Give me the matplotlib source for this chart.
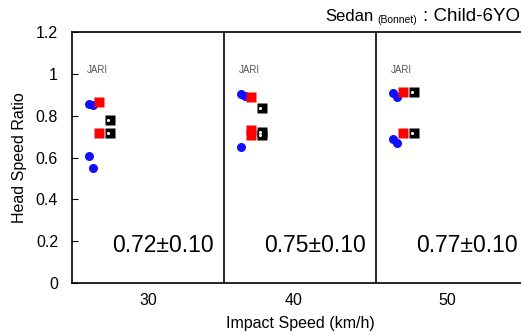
import matplotlib.pyplot as plt

plt.rcParams["font.family"] = ["Liberation Sans", "DejaVu Sans"]

# impact speeds (km/h), one panel each
speeds = ["30", "40", "50"]

# head speed ratios
blue_ratio = [[0.855, 0.85, 0.605, 0.55], [0.905, 0.893, 0.648], [0.907, 0.89, 0.69, 0.667]]
red_ratio = [[0.865, 0.715], [0.888, 0.73, 0.706], [0.912, 0.715]]
black_ratio = [[0.78, 0.715], [0.835, 0.72, 0.706], [0.912, 0.715]]
mean_ratio = [0.72, 0.75, 0.77]
sd_ratio = [0.10, 0.10, 0.10]

fig = plt.figure(figsize=(5.21, 3.35), dpi=100)
ax = fig.add_axes([72 / 521, 52 / 335, 456 / 521, 251 / 335])

for i in range(len(speeds)):
    b = blue_ratio[i]
    ax.plot([i + 0.11 + 0.025 * (k % 2) for k in range(len(b))], b, "o",
            color="#1010ff", ms=6.5, mec="none", zorder=3)
    r = red_ratio[i]
    ax.plot([i + 0.18] * len(r), r, "s", color="#ff0000", ms=6.5, mec="none", zorder=4)
    k = black_ratio[i]
    ax.plot([i + 0.25] * len(k), k, "s", color="black", ms=7, mec="none", zorder=5)
    ax.plot([i + 0.24] * len(k), k, ".", color="white", ms=2.5, zorder=6)
    ax.text(i + 0.6, 0.18, f"{mean_ratio[i]:.2f}\u00b1{sd_ratio[i]:.2f}",
            ha="center", va="center", fontsize=16.5)
    ax.text(i + 0.17, 1.02, "JARI", ha="center", va="center",
            fontsize=7, color="#555555")

for x in (1, 2):
    ax.axvline(x, color="black", lw=1.2)

ax.set_xlim(0, 3)
ax.set_ylim(0, 1.2)
ax.set_yticks([0, 0.2, 0.4, 0.6, 0.8, 1.0, 1.2])
ax.set_yticklabels(["0", "0.2", "0.4", "0.6", "0.8", "1", "1.2"])
ax.set_xticks([0.5, 1.46, 2.47])
ax.set_xticklabels(speeds)
ax.tick_params(axis="y", direction="in", length=4, labelsize=11.5, pad=10)
ax.tick_params(axis="x", length=0, labelsize=11.5, pad=7)
ax.spines["right"].set_visible(False)
for s in ("left", "bottom", "top"):
    ax.spines[s].set_linewidth(1.2)

ax.set_ylabel("Head Speed Ratio", fontsize=11.5, labelpad=6)
ax.set_xlabel("Impact Speed (km/h)", fontsize=11.5, labelpad=6)

fig.text(325 / 521, 1 - 21 / 335, "Sedan", fontsize=12, ha="left", va="baseline")
fig.text(377 / 521, 1 - 23 / 335, "(Bonnet)", fontsize=7.5, ha="left", va="baseline")
fig.text(423 / 521, 1 - 21 / 335, ": Child-6YO", fontsize=13.5, ha="left", va="baseline")

fig.savefig("out.png", dpi=100)
